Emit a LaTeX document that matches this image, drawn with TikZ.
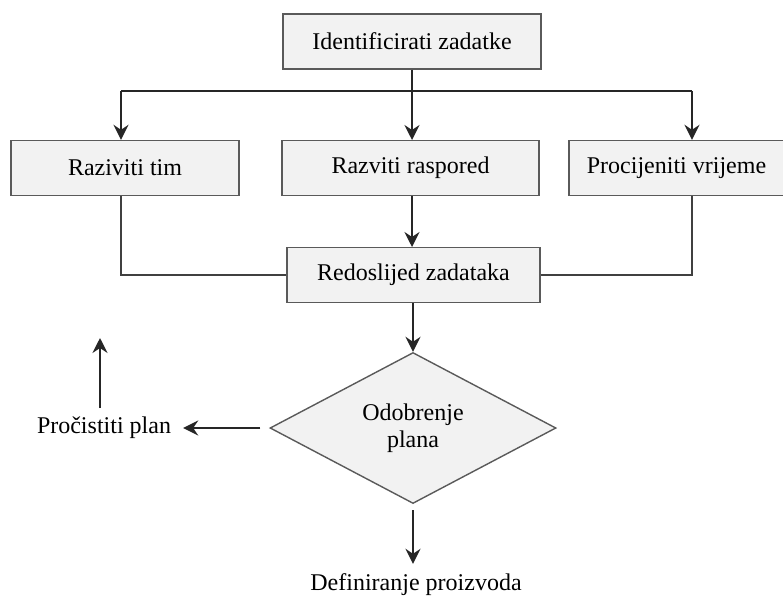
\documentclass[tikz,border=0pt]{standalone}
\usepackage{fontspec}
\setmainfont{Liberation Serif}
\usetikzlibrary{shapes.geometric, arrows.meta, positioning}
\definecolor{planFill}{RGB}{242, 242, 242}
\definecolor{planBorder}{RGB}{90, 90, 90}
\definecolor{planArrow}{RGB}{38, 38, 38}
\definecolor{planLine}{RGB}{64, 64, 64}

\begin{document}
\begin{tikzpicture}[x=1pt, y=-1pt,
            box/.style={rectangle, fill=planFill, draw=planBorder, line width=1.4pt,
                        minimum height=55pt, inner sep=0pt, align=center,
                        font=\fontsize{24}{27}\selectfont},
            decision/.style={diamond, fill=planFill, draw=planBorder, line width=1.4pt,
                        minimum width=286pt, minimum height=151pt, inner sep=0pt, align=center,
                        font=\fontsize{24}{27}\selectfont},
            label/.style={inner sep=0pt, font=\fontsize{24}{27}\selectfont},
            arrow/.style={-{Stealth[length=15pt, width=15pt, inset=5pt]}, line width=2pt, planArrow},
            link/.style={line width=1.1pt, planLine}
        ]
            \useasboundingbox (0,0) rectangle (783,597);

            % Top task
            \node[box, minimum width=258pt] (ident) at (412,41.5) {Identificirati zadatke};

            % Parallel tasks
            \node[box, minimum width=228pt] (tim) at (125,168) {Raziviti tim};
            \node[box, minimum width=257pt] (raspored) at (410.5,168) {Razviti raspored};
            \node[box, minimum width=215pt] (vrijeme) at (676.5,168) {Procijeniti vrijeme};

            % Sequence and approval
            \node[box, minimum width=253pt] (redoslijed) at (413.5,275) {Redoslijed zadataka};
            \node[decision] (odobrenje) at (413,428) {Odobrenje\\plana};

            % Outcomes
            \node[label] (prociscenje) at (104,428) {Pročistiti plan};
            \node[label] (definiranje) at (416,585) {Definiranje proizvoda};

            % Branch points
            \coordinate (lijevo) at (121,91);
            \coordinate (desno) at (692,91);
            \coordinate (gore1) at (100,408);
            \coordinate (gore2) at (100,338);

            % Arrows
            \draw[link, line width=1.6pt, planArrow] (lijevo) -- (desno);
            \draw[arrow] (ident.south -| 412,0) -- (412,140);
            \draw[arrow] (lijevo) -- (lijevo |- tim.north);
            \draw[arrow] (desno) -- (desno |- vrijeme.north);
            \draw[arrow] (412,196) -- (412,247);
            \draw[link] (lijevo |- tim.south) |- (redoslijed.west);
            \draw[link] (desno |- vrijeme.south) |- (redoslijed.east);
            \draw[arrow] (odobrenje.north |- redoslijed.south) -- (odobrenje.north);
            \draw[arrow, shorten <=9pt, shorten >=12pt] (odobrenje.west) -- (prociscenje.east);
            \draw[arrow, shorten <=6pt, shorten >=10pt] (odobrenje.south) -- (odobrenje.south |- definiranje.north);
            \draw[arrow] (gore1) -- (gore2);
        \end{tikzpicture}
\end{document}
